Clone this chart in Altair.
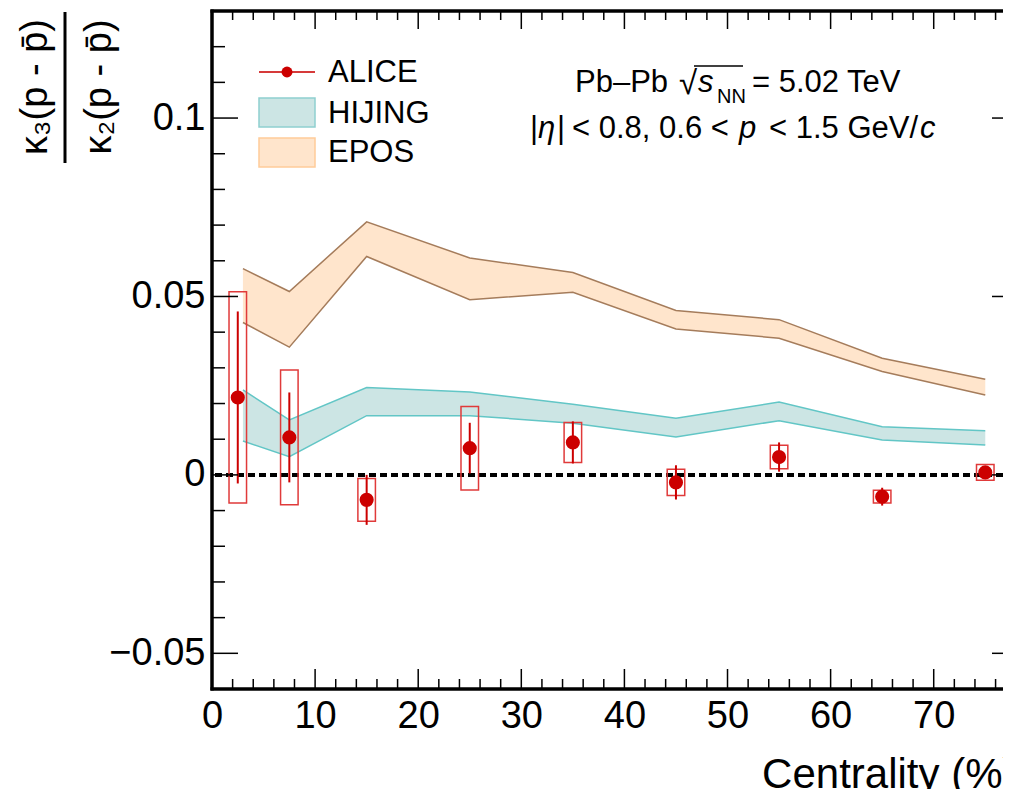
import altair as alt
import pandas as pd

FONT = "Liberation Sans"

# ---------------- data ----------------
centrality = [2.5, 7.5, 15, 25, 35, 45, 55, 65, 75]
alice_value = [0.0217, 0.0105, -0.0070, 0.0075, 0.0091, -0.0021, 0.0050, -0.0061, 0.0007]
alice_stat = [0.0241, 0.0126, 0.0070, 0.0071, 0.0059, 0.0048, 0.0041, 0.0025, 0.0015]
alice_sys = [0.0296, 0.0189, 0.0060, 0.0117, 0.0056, 0.0037, 0.0033, 0.0018, 0.0022]

model_centrality = [3, 7.5, 15, 25, 35, 45, 55, 65, 75]
hijing_low = [0.0095, 0.0051, 0.0166, 0.0166, 0.0145, 0.0106, 0.0152, 0.0098, 0.0084]
hijing_high = [0.0238, 0.0154, 0.0245, 0.0232, 0.0198, 0.0159, 0.0204, 0.0135, 0.0124]
epos_low = [0.0427, 0.0358, 0.0612, 0.0491, 0.0512, 0.0409, 0.0383, 0.0290, 0.0224]
epos_high = [0.0578, 0.0514, 0.0709, 0.0608, 0.0567, 0.0461, 0.0435, 0.0327, 0.0268]

legend_labels = ["ALICE", "HIJING", "EPOS"]

x_major_ticks = [0, 10, 20, 30, 40, 50, 60, 70]
x_minor_ticks = [2, 4, 6, 8, 12, 14, 16, 18, 22, 24, 26, 28, 32, 34, 36, 38,
                 42, 44, 46, 48, 52, 54, 56, 58, 62, 64, 66, 68, 72, 74, 76]
y_major_ticks = [-0.05, 0.0, 0.05, 0.1]
y_minor_ticks = [-0.04, -0.03, -0.02, -0.01, 0.01, 0.02, 0.03, 0.04,
                 0.06, 0.07, 0.08, 0.09, 0.11, 0.12]

# ---------------- style ----------------
W, H = 791, 678           # visible part of the frame; the right frame edge is off-page
X_DOMAIN = [0, 76.72]
Y_DOMAIN = [-0.06, 0.13]
BOX_HALF = 0.85
RIGHT_EDGE = 13           # distance (px) from the visible edge to the frame's right side

RED = "#CC0000"
BOX_RED = "#E03A3A"
HIJING_FILL = "#CCE5E4"
HIJING_EDGE = "#62C6C6"
EPOS_FILL = "#FFE5CC"
EPOS_EDGE = "#A57C5B"

XS = alt.Scale(domain=X_DOMAIN, nice=False, zero=False)
YS = alt.Scale(domain=Y_DOMAIN, nice=False, zero=False)

XA = alt.Axis(values=x_major_ticks, format="d", ticks=False, tickSize=0, domain=False,
              grid=False, labelFont=FONT, labelFontSize=38, labelColor="black",
              labelPadding=8, labelFlush=False, labelOverlap=False,
              title="Centrality (%)", titleFont=FONT, titleFontSize=42,
              titleFontWeight="normal", titleColor="black", titleAnchor="end",
              titleAlign="right", titleX=W + RIGHT_EDGE, titlePadding=19)
YA = alt.Axis(values=y_major_ticks, format=".2~f", ticks=False, tickSize=0, domain=False,
              grid=False, labelFont=FONT, labelFontSize=38, labelColor="black",
              labelPadding=7, labelFlush=False, labelOverlap=False, title=None)


def X(field):
    return alt.X(field, type="quantitative", scale=XS, axis=XA)


def Y(field):
    return alt.Y(field, type="quantitative", scale=YS, axis=YA)


alice = pd.DataFrame({"c": centrality, "v": alice_value,
                      "stat": alice_stat, "sys": alice_sys})
alice["stat_lo"] = alice["v"] - alice["stat"]
alice["stat_hi"] = alice["v"] + alice["stat"]
alice["sys_lo"] = alice["v"] - alice["sys"]
alice["sys_hi"] = alice["v"] + alice["sys"]
alice["c_lo"] = alice["c"] - BOX_HALF
alice["c_hi"] = alice["c"] + BOX_HALF

hijing = pd.DataFrame({"c": model_centrality, "lo": hijing_low, "hi": hijing_high})
epos = pd.DataFrame({"c": model_centrality, "lo": epos_low, "hi": epos_high})

one = alt.Data(values=[{}])
layers = []

# model bands
for df, fill, edge in [(epos, EPOS_FILL, EPOS_EDGE), (hijing, HIJING_FILL, HIJING_EDGE)]:
    base = alt.Chart(df)
    layers.append(base.mark_area(color=fill, opacity=1).encode(x=X("c"), y=Y("lo"), y2="hi"))
    layers.append(base.mark_line(color=edge, strokeWidth=1.5).encode(x=X("c"), y=Y("lo")))
    layers.append(base.mark_line(color=edge, strokeWidth=1.5).encode(x=X("c"), y=Y("hi")))

# white strip over the clipped right edge of the view
layers.append(alt.Chart(one).mark_rule(color="white", strokeWidth=4)
              .encode(x=alt.value(W), y=alt.value(-3), y2=alt.value(H + 3)))

# zero line
layers.append(
    alt.Chart(pd.DataFrame({"z": [0.0]}))
    .mark_rule(color="black", strokeWidth=4, strokeDash=[7, 4])
    .encode(y=Y("z"))
)

# ALICE
ab = alt.Chart(alice)
layers.append(
    ab.mark_rect(fillOpacity=0, stroke=BOX_RED, strokeWidth=1.5)
    .encode(x=X("c_lo"), x2="c_hi", y=Y("sys_lo"), y2="sys_hi")
)
layers.append(
    ab.mark_rule(color=RED, strokeWidth=2).encode(x=X("c"), y=Y("stat_lo"), y2="stat_hi")
)
layers.append(
    ab.mark_point(filled=True, color=RED, opacity=1, size=200, shape="circle")
    .encode(x=X("c"), y=Y("v"))
)

# frame ticks (inward, ROOT style)
xmaj = alt.Chart(pd.DataFrame({"t": x_major_ticks}))
xmin = alt.Chart(pd.DataFrame({"t": x_minor_ticks}))
ymaj = alt.Chart(pd.DataFrame({"t": y_major_ticks}))
ymin = alt.Chart(pd.DataFrame({"t": y_minor_ticks}))
tk = dict(color="black", strokeWidth=1.5)
layers += [
    xmaj.mark_rule(**tk).encode(x=X("t"), y=alt.value(H), y2=alt.value(H - 20)),
    xmin.mark_rule(**tk).encode(x=X("t"), y=alt.value(H), y2=alt.value(H - 10)),
    xmaj.mark_rule(**tk).encode(x=X("t"), y=alt.value(0), y2=alt.value(18)),
    xmin.mark_rule(**tk).encode(x=X("t"), y=alt.value(0), y2=alt.value(9)),
    ymaj.mark_rule(**tk).encode(y=Y("t"), x=alt.value(0), x2=alt.value(26)),
    ymin.mark_rule(**tk).encode(y=Y("t"), x=alt.value(0), x2=alt.value(13)),
    ymaj.mark_rule(**tk).encode(y=Y("t"), x=alt.value(W + RIGHT_EDGE - 24), x2=alt.value(W + 2)),
    ymin.mark_rule(**tk).encode(y=Y("t"), x=alt.value(W + RIGHT_EDGE - 12), x2=alt.value(W + 2)),
]

# frame (left, top, bottom; right edge lies beyond the visible page)
fr = dict(color="black", strokeWidth=3.5)
layers += [
    alt.Chart(one).mark_rule(**fr).encode(x=alt.value(0), y=alt.value(-1.5), y2=alt.value(H + 1.5)),
    alt.Chart(one).mark_rule(**fr).encode(x=alt.value(-1.5), x2=alt.value(W + 2), y=alt.value(0)),
    alt.Chart(one).mark_rule(**fr).encode(x=alt.value(-1.5), x2=alt.value(W + 2), y=alt.value(H)),
]


def txt(text, x, y, size=31, italic=False, align="left", baseline="alphabetic", angle=0):
    kw = dict(text=text, font=FONT, fontSize=size, align=align, baseline=baseline,
              color="black")
    if italic:
        kw["fontStyle"] = "italic"
    if angle:
        kw["angle"] = angle
    return alt.Chart(one).mark_text(**kw).encode(x=alt.value(x), y=alt.value(y))


# legend
layers.append(alt.Chart(one).mark_rule(color="#D63A3A", strokeWidth=2)
              .encode(x=alt.value(47), x2=alt.value(103), y=alt.value(61)))
layers.append(alt.Chart(one).mark_point(filled=True, color=RED, opacity=1, size=120)
              .encode(x=alt.value(75), y=alt.value(61)))
layers.append(alt.Chart(one).mark_rect(fill=HIJING_FILL, stroke="#8FCFCF", strokeWidth=1.5)
              .encode(x=alt.value(47), x2=alt.value(103), y=alt.value(87), y2=alt.value(116)))
layers.append(alt.Chart(one).mark_rect(fill=EPOS_FILL, stroke="#FFCC99", strokeWidth=1.5)
              .encode(x=alt.value(47), x2=alt.value(103), y=alt.value(127), y2=alt.value(156)))
layers.append(txt(legend_labels[0], 116, 71))
layers.append(txt(legend_labels[1], 116, 112))
layers.append(txt(legend_labels[2], 116, 151))

# system label, line 1
layers.append(txt("Pb–Pb", 363, 81))
layers.append(txt("√", 467, 83, size=33))
layers.append(alt.Chart(one).mark_rule(color="black", strokeWidth=1.5)
              .encode(x=alt.value(482), x2=alt.value(531), y=alt.value(55)))
layers.append(txt("s", 486, 81, italic=True))
layers.append(txt("NN", 505, 92, size=20))
layers.append(txt("= 5.02 TeV", 540, 81))
# line 2
layers.append(txt("|", 318, 127))
layers.append(txt("η", 326, 127, italic=True))
layers.append(txt("|", 345, 127))
layers.append(txt("< 0.8, 0.6 <", 360, 127))
layers.append(txt("p", 527, 127, italic=True))
layers.append(txt("< 1.5 GeV/", 557, 127))
layers.append(txt("c", 708, 127, italic=True))

# y-axis title as a fraction
layers.append(txt("κ₃(p - p̄)", -176, 76, size=38, align="center", baseline="middle", angle=270))
layers.append(txt("κ₂(p - p̄)", -112, 76, size=38, align="center", baseline="middle", angle=270))
layers.append(alt.Chart(one).mark_rule(color="black", strokeWidth=3)
              .encode(x=alt.value(-147), y=alt.value(1), y2=alt.value(152)))

chart = (
    alt.layer(*layers)
    .properties(width=W, height=H,
                padding={"left": 204, "top": 3, "right": 0, "bottom": 100},
                autosize=alt.AutoSizeParams(type="none"))
    .configure_view(strokeWidth=0, stroke="transparent")
)

chart.save("out.html", embed_options={"renderer": "svg", "actions": False})
